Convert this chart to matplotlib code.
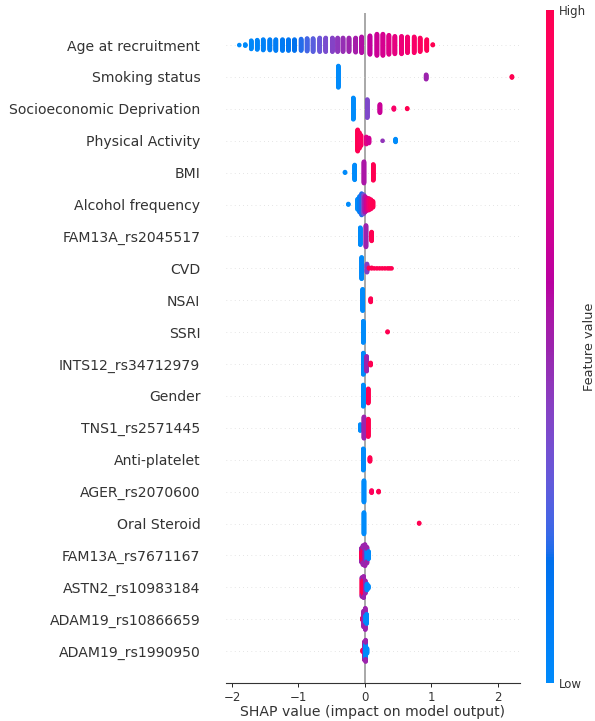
import numpy as np
import matplotlib
import matplotlib.pyplot as plt
from matplotlib.colors import LinearSegmentedColormap
from matplotlib import cm

# Features top to bottom
features = ["Age at recruitment", "Smoking status", "Socioeconomic Deprivation",
            "Physical Activity", "BMI", "Alcohol frequency", "FAM13A_rs2045517",
            "CVD", "NSAI", "SSRI", "INTS12_rs34712979", "Gender", "TNS1_rs2571445",
            "Anti-platelet", "AGER_rs2070600", "Oral Steroid", "FAM13A_rs7671167",
            "ASTN2_rs10983184", "ADAM19_rs10866659", "ADAM19_rs1990950"]

# clusters per feature: (shap value, number of samples, feature value 0=low..1=high)
age = [(-1.89, 1, 0.0), (-1.80, 3, 0.0), (-1.71, 16, 0.02), (-1.62, 18, 0.04),
       (-1.53, 20, 0.06), (-1.43, 20, 0.08), (-1.34, 21, 0.10), (-1.24, 21, 0.12),
       (-1.15, 21, 0.14), (-1.06, 21, 0.17), (-0.96, 22, 0.20), (-0.87, 24, 0.24),
       (-0.78, 25, 0.28), (-0.68, 26, 0.32), (-0.59, 26, 0.36), (-0.49, 26, 0.40),
       (-0.41, 26, 0.44), (-0.33, 26, 0.47), (-0.24, 26, 0.50), (-0.14, 27, 0.53),
       (-0.05, 30, 0.57), (0.075, 35, 0.62), (0.18, 40, 0.66), (0.27, 40, 0.70),
       (0.36, 36, 0.74), (0.45, 33, 0.78), (0.55, 33, 0.82), (0.64, 30, 0.86),
       (0.74, 30, 0.90), (0.83, 26, 0.94), (0.93, 21, 0.97), (1.02, 2, 1.0)]
smoking = [(-0.40, 40, 0.0), (0.92, 9, 0.5), (2.21, 3, 1.0)]
deprivation = [(-0.175, 40, 0.0), (0.035, 34, 0.38), (0.225, 16, 0.65),
               (0.435, 4, 0.9), (0.635, 2, 1.0)]
activity = [(-0.11, 40, 1.0), (-0.085, 30, 0.97), (-0.06, 20, 0.93),
            (0.02, 14, 0.75), (0.06, 10, 0.68), (0.265, 1, 0.45), (0.46, 6, 0.0)]
bmi = [(-0.30, 2, 0.0), (-0.155, 28, 0.0), (-0.015, 40, 0.55), (0.125, 30, 1.0)]
alcohol = [(-0.25, 2, 0.0), (-0.11, 20, 0.0), (-0.08, 30, 0.08), (-0.05, 40, 0.2),
           (-0.02, 36, 0.35), (0.0, 30, 0.55), (0.03, 24, 0.7), (0.06, 22, 0.85),
           (0.09, 18, 0.95), (0.12, 12, 1.0)]
fam13a_1 = [(-0.07, 32, 0.0), (0.015, 40, 0.5), (0.10, 17, 1.0)]
cvd = [(-0.05, 40, 0.0), (0.03, 16, 0.42), (0.06, 2, 1.0), (0.10, 2, 1.0),
       (0.14, 1, 1.0), (0.18, 1, 1.0), (0.22, 1, 1.0), (0.26, 1, 1.0),
       (0.30, 1, 1.0), (0.34, 1, 1.0), (0.37, 1, 1.0), (0.40, 1, 1.0)]
nsai = [(-0.035, 40, 0.0), (0.087, 7, 1.0)]
ssri = [(-0.025, 40, 0.0), (0.34, 2, 1.0)]
ints12 = [(-0.025, 40, 0.0), (0.025, 28, 0.5), (0.085, 5, 1.0)]
gender = [(-0.025, 40, 0.0), (0.05, 27, 1.0)]
tns1 = [(-0.07, 12, 0.0), (-0.015, 40, 0.5), (0.05, 33, 1.0)]
antiplatelet = [(-0.025, 40, 0.0), (0.075, 8, 1.0)]
ager = [(-0.015, 40, 0.0), (0.10, 5, 0.95), (0.205, 3, 1.0)]
steroid = [(-0.015, 40, 0.0), (0.815, 2, 1.0)]
fam13a_2 = [(-0.055, 20, 1.0), (-0.055, 6, 0.5), (-0.03, 26, 1.0), (-0.03, 10, 0.5),
            (0.0, 40, 0.5), (0.03, 22, 0.0), (0.03, 8, 0.5), (0.055, 14, 0.0)]
astn2 = [(-0.045, 30, 1.0), (-0.045, 6, 0.5), (-0.02, 34, 1.0), (-0.02, 6, 0.5),
         (0.005, 24, 0.5), (0.03, 12, 0.0), (0.05, 6, 0.0)]
adam19_1 = [(-0.04, 4, 1.0), (-0.02, 30, 0.5), (0.005, 20, 0.0), (0.005, 20, 0.5),
            (0.025, 18, 0.0)]
adam19_2 = [(-0.035, 4, 1.0), (-0.01, 34, 0.5), (0.01, 30, 0.0), (0.01, 10, 0.5),
            (0.03, 10, 0.0)]

rows = [age, smoking, deprivation, activity, bmi, alcohol, fam13a_1, cvd, nsai, ssri,
        ints12, gender, tns1, antiplatelet, ager, steroid, fam13a_2, astn2,
        adam19_1, adam19_2]


# shap's red_blue colormap (lch interpolation)
def lch2rgb(l, c, h):
    a, b = c * np.cos(h), c * np.sin(h)
    fy = (l + 16) / 116.0
    fx, fz = fy + a / 500.0, fy - b / 200.0
    def finv(t):
        return t ** 3 if t > 6 / 29 else 3 * (6 / 29) ** 2 * (t - 4 / 29)
    X, Y, Z = 0.95047 * finv(fx), finv(fy), 1.08883 * finv(fz)
    M = np.array([[3.2406, -1.5372, -0.4986], [-0.9689, 1.8758, 0.0415], [0.0557, -0.2040, 1.0570]])
    rgb = M @ np.array([X, Y, Z])
    rgb = np.where(rgb > 0.0031308, 1.055 * np.abs(rgb) ** (1 / 2.4) - 0.055, 12.92 * rgb)
    return np.clip(rgb, 0, 1)


nsteps = 100
l_vals = list(np.linspace(54., 40., nsteps // 2)) + list(np.linspace(40., 54., nsteps // 2))
c_vals = np.linspace(70., 90., nsteps)
h_vals = np.linspace(4.6588, 0.35470565 + 2 * np.pi, nsteps)
cols = [lch2rgb(l, c, h) for l, c, h in zip(l_vals, c_vals, h_vals)]
red_blue = LinearSegmentedColormap.from_list("red_blue", list(zip(np.linspace(0, 1, nsteps), cols)))


def swarm(shaps, row_height=0.4):
    n = len(shaps)
    quant = np.round(100 * (shaps - shaps.min()) / (shaps.max() - shaps.min() + 1e-8))
    order = np.argsort(quant, kind="stable")
    ys = np.zeros(n)
    layer, last = 0, -1
    for i in order:
        if quant[i] != last:
            layer = 0
        ys[i] = np.ceil(layer / 2) * ((layer % 2) * 2 - 1)
        layer += 1
        last = quant[i]
    ys *= 0.9 * (row_height / np.max(ys + 1))
    return ys


fig = plt.figure(figsize=(5.95, 7.21), dpi=100)
ax = fig.add_axes([0.3798, 0.0527, 0.494, 0.929])

n = len(features)
ax.axvline(x=0, color="#999999", lw=1.2, zorder=-1)
for pos, (name, row) in enumerate(zip(features[::-1], rows[::-1])):
    ax.axhline(y=pos, color="#cccccc", lw=0.5, dashes=(1, 5), zorder=-1)
    shaps = np.concatenate([[v] * c for v, c, f in row])
    fvals = np.concatenate([[f] * c for v, c, f in row])
    ys = swarm(shaps)
    ax.scatter(shaps, pos + ys, c=fvals, cmap=red_blue, vmin=0, vmax=1,
               s=11, linewidth=0, alpha=1, zorder=3)

ax.set_yticks(range(n))
ax.set_yticklabels(features[::-1], fontsize=10.1, color="#333333")
ax.tick_params("y", length=0, pad=18.5)
ax.tick_params("x", labelsize=8.5, labelcolor="#333333", width=0.6, length=3, pad=2.5)
ax.set_ylim(-1, n)
ax.set_xlim(-2.09, 2.33)
ax.set_xticks([-2, -1, 0, 1, 2])
ax.set_xlabel("SHAP value (impact on model output)", fontsize=10.1, color="#333333", labelpad=1)
for s in ["top", "right", "left"]:
    ax.spines[s].set_visible(False)
ax.spines["bottom"].set_color("#333333")

cax = fig.add_axes([0.9176, 0.0527, 0.0134, 0.933])
m = cm.ScalarMappable(cmap=red_blue)
m.set_array([0, 1])
cb = fig.colorbar(m, cax=cax, ticks=[0, 1])
cb.set_ticklabels(["Low", "High"])
cb.set_label("Feature value", size=9.3, labelpad=-2, color="#333333")
cb.ax.tick_params(labelsize=8.5, length=0, labelcolor="#333333")
cb.outline.set_visible(False)

fig.savefig("out.png", dpi=100)
